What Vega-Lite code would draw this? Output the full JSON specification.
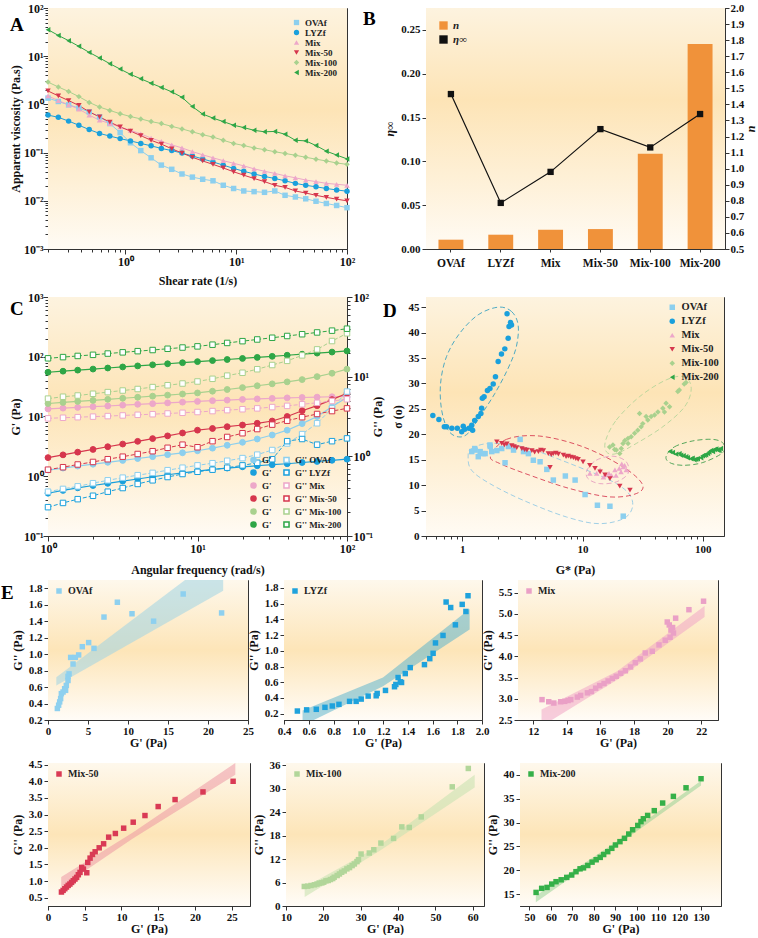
{
"$schema":"https://vega.github.io/schema/vega-lite/v6.json",
"padding":{"left":0,"top":1,"right":0,"bottom":0},
"background":"#ffffff",
"config":{
"font":"Liberation Serif",
"view":{"stroke":"#333333","strokeWidth":1},
"axis":{"grid":false,"labelFont":"Liberation Serif","labelFontWeight":"bold","labelFontSize":11,"labelColor":"#111111","titleFont":"Liberation Serif","titleFontWeight":"bold","titleFontSize":12,"titleColor":"#111111","domainColor":"#333333","tickColor":"#333333","tickSize":4,"labelPadding":2,"titlePadding":4,"labelFlush":false,"labelOverlap":false,"labelBound":false},
"legend":{"labelFont":"Liberation Serif","labelFontWeight":"bold","labelFontSize":10,"labelColor":"#222222","rowPadding":1,"padding":2,"symbolSize":30},
"title":{"font":"Liberation Serif","fontSize":19,"fontWeight":"bold","color":"#000000","anchor":"start","frame":"group","offset":0,"baseline":"alphabetic"}
},
"datasets":{
"A":[
{"x":0.2,"y":1.35,"s":"OVAf"},{"x":0.248,"y":1.15,"s":"OVAf"},{"x":0.307,"y":0.98,"s":"OVAf"},{"x":0.38,"y":0.84,"s":"OVAf"},{"x":0.471,"y":0.7,"s":"OVAf"},{"x":0.584,"y":0.55,"s":"OVAf"},{"x":0.723,"y":0.4,"s":"OVAf"},{"x":0.896,"y":0.26,"s":"OVAf"},{"x":1.11,"y":0.16,"s":"OVAf"},{"x":1.376,"y":0.11,"s":"OVAf"},{"x":1.705,"y":0.078,"s":"OVAf"},{"x":2.11,"y":0.055,"s":"OVAf"},{"x":2.62,"y":0.045,"s":"OVAf"},{"x":3.24,"y":0.036,"s":"OVAf"},{"x":4.02,"y":0.031,"s":"OVAf"},{"x":4.98,"y":0.028,"s":"OVAf"},{"x":6.17,"y":0.026,"s":"OVAf"},{"x":7.64,"y":0.021,"s":"OVAf"},{"x":9.47,"y":0.018,"s":"OVAf"},{"x":11.7,"y":0.016,"s":"OVAf"},{"x":14.5,"y":0.0155,"s":"OVAf"},{"x":18,"y":0.015,"s":"OVAf"},{"x":22.3,"y":0.016,"s":"OVAf"},{"x":27.6,"y":0.013,"s":"OVAf"},{"x":34.2,"y":0.012,"s":"OVAf"},{"x":42.4,"y":0.011,"s":"OVAf"},{"x":52.5,"y":0.0098,"s":"OVAf"},{"x":65.1,"y":0.0088,"s":"OVAf"},{"x":80.6,"y":0.008,"s":"OVAf"},{"x":100,"y":0.0072,"s":"OVAf"},
{"x":0.2,"y":0.6,"s":"LYZf"},{"x":0.248,"y":0.54,"s":"LYZf"},{"x":0.307,"y":0.45,"s":"LYZf"},{"x":0.38,"y":0.37,"s":"LYZf"},{"x":0.471,"y":0.3,"s":"LYZf"},{"x":0.584,"y":0.25,"s":"LYZf"},{"x":0.723,"y":0.22,"s":"LYZf"},{"x":0.896,"y":0.195,"s":"LYZf"},{"x":1.11,"y":0.175,"s":"LYZf"},{"x":1.376,"y":0.155,"s":"LYZf"},{"x":1.705,"y":0.138,"s":"LYZf"},{"x":2.11,"y":0.122,"s":"LYZf"},{"x":2.62,"y":0.11,"s":"LYZf"},{"x":3.24,"y":0.098,"s":"LYZf"},{"x":4.02,"y":0.085,"s":"LYZf"},{"x":4.98,"y":0.074,"s":"LYZf"},{"x":6.17,"y":0.064,"s":"LYZf"},{"x":7.64,"y":0.055,"s":"LYZf"},{"x":9.47,"y":0.047,"s":"LYZf"},{"x":11.7,"y":0.041,"s":"LYZf"},{"x":14.5,"y":0.036,"s":"LYZf"},{"x":18,"y":0.032,"s":"LYZf"},{"x":22.3,"y":0.029,"s":"LYZf"},{"x":27.6,"y":0.026,"s":"LYZf"},{"x":34.2,"y":0.023,"s":"LYZf"},{"x":42.4,"y":0.021,"s":"LYZf"},{"x":52.5,"y":0.0195,"s":"LYZf"},{"x":65.1,"y":0.018,"s":"LYZf"},{"x":80.6,"y":0.0168,"s":"LYZf"},{"x":100,"y":0.0158,"s":"LYZf"},
{"x":0.2,"y":1.5,"s":"Mix"},{"x":0.248,"y":1.2,"s":"Mix"},{"x":0.307,"y":0.98,"s":"Mix"},{"x":0.38,"y":0.8,"s":"Mix"},{"x":0.471,"y":0.6,"s":"Mix"},{"x":0.584,"y":0.47,"s":"Mix"},{"x":0.723,"y":0.4,"s":"Mix"},{"x":0.896,"y":0.34,"s":"Mix"},{"x":1.11,"y":0.29,"s":"Mix"},{"x":1.376,"y":0.245,"s":"Mix"},{"x":1.705,"y":0.2,"s":"Mix"},{"x":2.11,"y":0.17,"s":"Mix"},{"x":2.62,"y":0.145,"s":"Mix"},{"x":3.24,"y":0.125,"s":"Mix"},{"x":4.02,"y":0.105,"s":"Mix"},{"x":4.98,"y":0.09,"s":"Mix"},{"x":6.17,"y":0.078,"s":"Mix"},{"x":7.64,"y":0.068,"s":"Mix"},{"x":9.47,"y":0.06,"s":"Mix"},{"x":11.7,"y":0.053,"s":"Mix"},{"x":14.5,"y":0.046,"s":"Mix"},{"x":18,"y":0.041,"s":"Mix"},{"x":22.3,"y":0.037,"s":"Mix"},{"x":27.6,"y":0.033,"s":"Mix"},{"x":34.2,"y":0.03,"s":"Mix"},{"x":42.4,"y":0.027,"s":"Mix"},{"x":52.5,"y":0.025,"s":"Mix"},{"x":65.1,"y":0.023,"s":"Mix"},{"x":80.6,"y":0.022,"s":"Mix"},{"x":100,"y":0.021,"s":"Mix"},
{"x":0.2,"y":1.9,"s":"Mix-50"},{"x":0.248,"y":1.5,"s":"Mix-50"},{"x":0.307,"y":1.2,"s":"Mix-50"},{"x":0.38,"y":0.95,"s":"Mix-50"},{"x":0.471,"y":0.7,"s":"Mix-50"},{"x":0.584,"y":0.55,"s":"Mix-50"},{"x":0.723,"y":0.43,"s":"Mix-50"},{"x":0.896,"y":0.34,"s":"Mix-50"},{"x":1.11,"y":0.28,"s":"Mix-50"},{"x":1.376,"y":0.225,"s":"Mix-50"},{"x":1.705,"y":0.18,"s":"Mix-50"},{"x":2.11,"y":0.15,"s":"Mix-50"},{"x":2.62,"y":0.12,"s":"Mix-50"},{"x":3.24,"y":0.098,"s":"Mix-50"},{"x":4.02,"y":0.08,"s":"Mix-50"},{"x":4.98,"y":0.067,"s":"Mix-50"},{"x":6.17,"y":0.057,"s":"Mix-50"},{"x":7.64,"y":0.048,"s":"Mix-50"},{"x":9.47,"y":0.04,"s":"Mix-50"},{"x":11.7,"y":0.034,"s":"Mix-50"},{"x":14.5,"y":0.029,"s":"Mix-50"},{"x":18,"y":0.025,"s":"Mix-50"},{"x":22.3,"y":0.021,"s":"Mix-50"},{"x":27.6,"y":0.019,"s":"Mix-50"},{"x":34.2,"y":0.016,"s":"Mix-50"},{"x":42.4,"y":0.0145,"s":"Mix-50"},{"x":52.5,"y":0.013,"s":"Mix-50"},{"x":65.1,"y":0.0118,"s":"Mix-50"},{"x":80.6,"y":0.0108,"s":"Mix-50"},{"x":100,"y":0.01,"s":"Mix-50"},
{"x":0.2,"y":2.9,"s":"Mix-100"},{"x":0.248,"y":2.3,"s":"Mix-100"},{"x":0.307,"y":1.85,"s":"Mix-100"},{"x":0.38,"y":1.45,"s":"Mix-100"},{"x":0.471,"y":1.1,"s":"Mix-100"},{"x":0.584,"y":0.88,"s":"Mix-100"},{"x":0.723,"y":0.75,"s":"Mix-100"},{"x":0.896,"y":0.64,"s":"Mix-100"},{"x":1.11,"y":0.56,"s":"Mix-100"},{"x":1.376,"y":0.5,"s":"Mix-100"},{"x":1.705,"y":0.44,"s":"Mix-100"},{"x":2.11,"y":0.4,"s":"Mix-100"},{"x":2.62,"y":0.35,"s":"Mix-100"},{"x":3.24,"y":0.31,"s":"Mix-100"},{"x":4.02,"y":0.27,"s":"Mix-100"},{"x":4.98,"y":0.235,"s":"Mix-100"},{"x":6.17,"y":0.21,"s":"Mix-100"},{"x":7.64,"y":0.18,"s":"Mix-100"},{"x":9.47,"y":0.155,"s":"Mix-100"},{"x":11.7,"y":0.14,"s":"Mix-100"},{"x":14.5,"y":0.125,"s":"Mix-100"},{"x":18,"y":0.115,"s":"Mix-100"},{"x":22.3,"y":0.104,"s":"Mix-100"},{"x":27.6,"y":0.096,"s":"Mix-100"},{"x":34.2,"y":0.088,"s":"Mix-100"},{"x":42.4,"y":0.08,"s":"Mix-100"},{"x":52.5,"y":0.073,"s":"Mix-100"},{"x":65.1,"y":0.067,"s":"Mix-100"},{"x":80.6,"y":0.061,"s":"Mix-100"},{"x":100,"y":0.057,"s":"Mix-100"},
{"x":0.2,"y":35.5,"s":"Mix-200"},{"x":0.248,"y":27,"s":"Mix-200"},{"x":0.307,"y":21,"s":"Mix-200"},{"x":0.38,"y":16,"s":"Mix-200"},{"x":0.471,"y":12,"s":"Mix-200"},{"x":0.584,"y":9.2,"s":"Mix-200"},{"x":0.723,"y":7,"s":"Mix-200"},{"x":0.896,"y":5.4,"s":"Mix-200"},{"x":1.11,"y":4.2,"s":"Mix-200"},{"x":1.376,"y":3.4,"s":"Mix-200"},{"x":1.705,"y":2.75,"s":"Mix-200"},{"x":2.11,"y":2.25,"s":"Mix-200"},{"x":2.62,"y":1.82,"s":"Mix-200"},{"x":3.24,"y":1.4,"s":"Mix-200"},{"x":4.02,"y":0.9,"s":"Mix-200"},{"x":4.98,"y":0.63,"s":"Mix-200"},{"x":6.17,"y":0.52,"s":"Mix-200"},{"x":7.64,"y":0.44,"s":"Mix-200"},{"x":9.47,"y":0.37,"s":"Mix-200"},{"x":11.7,"y":0.33,"s":"Mix-200"},{"x":14.5,"y":0.29,"s":"Mix-200"},{"x":18,"y":0.27,"s":"Mix-200"},{"x":22.3,"y":0.275,"s":"Mix-200"},{"x":27.6,"y":0.24,"s":"Mix-200"},{"x":34.2,"y":0.18,"s":"Mix-200"},{"x":42.4,"y":0.175,"s":"Mix-200"},{"x":52.5,"y":0.14,"s":"Mix-200"},{"x":65.1,"y":0.107,"s":"Mix-200"},{"x":80.6,"y":0.089,"s":"Mix-200"},{"x":100,"y":0.074,"s":"Mix-200"}
],
"B":[{"c":"OVAf","n":0.558,"e":0.1768},{"c":"LYZf","n":0.589,"e":0.0526},{"c":"Mix","n":0.62,"e":0.088},{"c":"Mix-50","n":0.624,"e":0.1368},{"c":"Mix-100","n":1.093,"e":0.1159},{"c":"Mix-200","n":1.776,"e":0.154}],
"Cp":[
{"x":1,"y":1.27,"s":"G' OVAf"},{"x":1.26,"y":1.37,"s":"G' OVAf"},{"x":1.58,"y":1.48,"s":"G' OVAf"},{"x":2,"y":1.59,"s":"G' OVAf"},{"x":2.51,"y":1.71,"s":"G' OVAf"},{"x":3.16,"y":1.84,"s":"G' OVAf"},{"x":3.98,"y":1.98,"s":"G' OVAf"},{"x":5.01,"y":2.13,"s":"G' OVAf"},{"x":6.31,"y":2.3,"s":"G' OVAf"},{"x":7.94,"y":2.47,"s":"G' OVAf"},{"x":10,"y":2.67,"s":"G' OVAf"},{"x":12.6,"y":2.95,"s":"G' OVAf"},{"x":15.8,"y":3.3,"s":"G' OVAf"},{"x":20,"y":3.7,"s":"G' OVAf"},{"x":25.1,"y":4.2,"s":"G' OVAf"},{"x":31.6,"y":4.9,"s":"G' OVAf"},{"x":39.8,"y":5.9,"s":"G' OVAf"},{"x":50.1,"y":7.6,"s":"G' OVAf"},{"x":63.1,"y":10,"s":"G' OVAf"},{"x":79.4,"y":14.5,"s":"G' OVAf"},{"x":100,"y":21,"s":"G' OVAf"},
{"x":1,"y":0.52,"s":"G' LYZf"},{"x":1.26,"y":0.58,"s":"G' LYZf"},{"x":1.58,"y":0.64,"s":"G' LYZf"},{"x":2,"y":0.7,"s":"G' LYZf"},{"x":2.51,"y":0.76,"s":"G' LYZf"},{"x":3.16,"y":0.83,"s":"G' LYZf"},{"x":3.98,"y":0.9,"s":"G' LYZf"},{"x":5.01,"y":0.98,"s":"G' LYZf"},{"x":6.31,"y":1.06,"s":"G' LYZf"},{"x":7.94,"y":1.14,"s":"G' LYZf"},{"x":10,"y":1.22,"s":"G' LYZf"},{"x":12.6,"y":1.3,"s":"G' LYZf"},{"x":15.8,"y":1.37,"s":"G' LYZf"},{"x":20,"y":1.44,"s":"G' LYZf"},{"x":25.1,"y":1.5,"s":"G' LYZf"},{"x":31.6,"y":1.56,"s":"G' LYZf"},{"x":39.8,"y":1.62,"s":"G' LYZf"},{"x":50.1,"y":1.7,"s":"G' LYZf"},{"x":63.1,"y":1.77,"s":"G' LYZf"},{"x":79.4,"y":1.85,"s":"G' LYZf"},{"x":100,"y":1.93,"s":"G' LYZf"},
{"x":1,"y":13.4,"s":"G' Mix"},{"x":1.26,"y":13.8,"s":"G' Mix"},{"x":1.58,"y":14.2,"s":"G' Mix"},{"x":2,"y":14.6,"s":"G' Mix"},{"x":2.51,"y":15,"s":"G' Mix"},{"x":3.16,"y":15.5,"s":"G' Mix"},{"x":3.98,"y":16,"s":"G' Mix"},{"x":5.01,"y":16.4,"s":"G' Mix"},{"x":6.31,"y":16.9,"s":"G' Mix"},{"x":7.94,"y":17.4,"s":"G' Mix"},{"x":10,"y":17.9,"s":"G' Mix"},{"x":12.6,"y":18.4,"s":"G' Mix"},{"x":15.8,"y":18.8,"s":"G' Mix"},{"x":20,"y":19.3,"s":"G' Mix"},{"x":25.1,"y":19.7,"s":"G' Mix"},{"x":31.6,"y":20.1,"s":"G' Mix"},{"x":39.8,"y":20.5,"s":"G' Mix"},{"x":50.1,"y":20.8,"s":"G' Mix"},{"x":63.1,"y":21.1,"s":"G' Mix"},{"x":79.4,"y":21.4,"s":"G' Mix"},{"x":100,"y":21.7,"s":"G' Mix"},
{"x":1,"y":2.05,"s":"G' Mix-50"},{"x":1.26,"y":2.28,"s":"G' Mix-50"},{"x":1.58,"y":2.53,"s":"G' Mix-50"},{"x":2,"y":2.81,"s":"G' Mix-50"},{"x":2.51,"y":3.12,"s":"G' Mix-50"},{"x":3.16,"y":3.46,"s":"G' Mix-50"},{"x":3.98,"y":3.84,"s":"G' Mix-50"},{"x":5.01,"y":4.27,"s":"G' Mix-50"},{"x":6.31,"y":4.74,"s":"G' Mix-50"},{"x":7.94,"y":5.3,"s":"G' Mix-50"},{"x":10,"y":5.9,"s":"G' Mix-50"},{"x":12.6,"y":6.3,"s":"G' Mix-50"},{"x":15.8,"y":6.75,"s":"G' Mix-50"},{"x":20,"y":7.2,"s":"G' Mix-50"},{"x":25.1,"y":7.7,"s":"G' Mix-50"},{"x":31.6,"y":8.4,"s":"G' Mix-50"},{"x":39.8,"y":10,"s":"G' Mix-50"},{"x":50.1,"y":12.5,"s":"G' Mix-50"},{"x":63.1,"y":15.2,"s":"G' Mix-50"},{"x":79.4,"y":19.2,"s":"G' Mix-50"},{"x":100,"y":24.5,"s":"G' Mix-50"},
{"x":1,"y":16.5,"s":"G' Mix-100"},{"x":1.26,"y":17.2,"s":"G' Mix-100"},{"x":1.58,"y":17.9,"s":"G' Mix-100"},{"x":2,"y":18.6,"s":"G' Mix-100"},{"x":2.51,"y":19.4,"s":"G' Mix-100"},{"x":3.16,"y":20.2,"s":"G' Mix-100"},{"x":3.98,"y":21,"s":"G' Mix-100"},{"x":5.01,"y":21.9,"s":"G' Mix-100"},{"x":6.31,"y":22.8,"s":"G' Mix-100"},{"x":7.94,"y":23.8,"s":"G' Mix-100"},{"x":10,"y":24.8,"s":"G' Mix-100"},{"x":12.6,"y":26.5,"s":"G' Mix-100"},{"x":15.8,"y":28.3,"s":"G' Mix-100"},{"x":20,"y":30.5,"s":"G' Mix-100"},{"x":25.1,"y":32.7,"s":"G' Mix-100"},{"x":31.6,"y":35.2,"s":"G' Mix-100"},{"x":39.8,"y":38,"s":"G' Mix-100"},{"x":50.1,"y":41.5,"s":"G' Mix-100"},{"x":63.1,"y":46.5,"s":"G' Mix-100"},{"x":79.4,"y":53,"s":"G' Mix-100"},{"x":100,"y":62,"s":"G' Mix-100"},
{"x":1,"y":55,"s":"G' Mix-200"},{"x":1.26,"y":57.3,"s":"G' Mix-200"},{"x":1.58,"y":59.7,"s":"G' Mix-200"},{"x":2,"y":62.2,"s":"G' Mix-200"},{"x":2.51,"y":64.8,"s":"G' Mix-200"},{"x":3.16,"y":67.5,"s":"G' Mix-200"},{"x":3.98,"y":70.3,"s":"G' Mix-200"},{"x":5.01,"y":73.3,"s":"G' Mix-200"},{"x":6.31,"y":76.3,"s":"G' Mix-200"},{"x":7.94,"y":79.5,"s":"G' Mix-200"},{"x":10,"y":82.9,"s":"G' Mix-200"},{"x":12.6,"y":86.3,"s":"G' Mix-200"},{"x":15.8,"y":89.9,"s":"G' Mix-200"},{"x":20,"y":93.7,"s":"G' Mix-200"},{"x":25.1,"y":97.6,"s":"G' Mix-200"},{"x":31.6,"y":101.7,"s":"G' Mix-200"},{"x":39.8,"y":106,"s":"G' Mix-200"},{"x":50.1,"y":110.4,"s":"G' Mix-200"},{"x":63.1,"y":115,"s":"G' Mix-200"},{"x":79.4,"y":119.8,"s":"G' Mix-200"},{"x":100,"y":125,"s":"G' Mix-200"}
],
"Cpp":[
{"x":1,"y":0.36,"s":"G'' OVAf"},{"x":1.26,"y":0.39,"s":"G'' OVAf"},{"x":1.58,"y":0.42,"s":"G'' OVAf"},{"x":2,"y":0.46,"s":"G'' OVAf"},{"x":2.51,"y":0.5,"s":"G'' OVAf"},{"x":3.16,"y":0.54,"s":"G'' OVAf"},{"x":3.98,"y":0.58,"s":"G'' OVAf"},{"x":5.01,"y":0.62,"s":"G'' OVAf"},{"x":6.31,"y":0.67,"s":"G'' OVAf"},{"x":7.94,"y":0.72,"s":"G'' OVAf"},{"x":10,"y":0.77,"s":"G'' OVAf"},{"x":12.6,"y":0.82,"s":"G'' OVAf"},{"x":15.8,"y":0.88,"s":"G'' OVAf"},{"x":20,"y":0.95,"s":"G'' OVAf"},{"x":25.1,"y":1.05,"s":"G'' OVAf"},{"x":31.6,"y":1.2,"s":"G'' OVAf"},{"x":39.8,"y":1.45,"s":"G'' OVAf"},{"x":50.1,"y":1.9,"s":"G'' OVAf"},{"x":63.1,"y":2.6,"s":"G'' OVAf"},{"x":79.4,"y":4,"s":"G'' OVAf"},{"x":100,"y":6.5,"s":"G'' OVAf"},
{"x":1,"y":0.23,"s":"G'' LYZf"},{"x":1.26,"y":0.26,"s":"G'' LYZf"},{"x":1.58,"y":0.29,"s":"G'' LYZf"},{"x":2,"y":0.32,"s":"G'' LYZf"},{"x":2.51,"y":0.36,"s":"G'' LYZf"},{"x":3.16,"y":0.4,"s":"G'' LYZf"},{"x":3.98,"y":0.45,"s":"G'' LYZf"},{"x":5.01,"y":0.5,"s":"G'' LYZf"},{"x":6.31,"y":0.55,"s":"G'' LYZf"},{"x":7.94,"y":0.6,"s":"G'' LYZf"},{"x":10,"y":0.64,"s":"G'' LYZf"},{"x":12.6,"y":0.68,"s":"G'' LYZf"},{"x":15.8,"y":0.72,"s":"G'' LYZf"},{"x":20,"y":0.77,"s":"G'' LYZf"},{"x":25.1,"y":0.83,"s":"G'' LYZf"},{"x":31.6,"y":0.92,"s":"G'' LYZf"},{"x":39.8,"y":1.55,"s":"G'' LYZf"},{"x":50.1,"y":1.65,"s":"G'' LYZf"},{"x":63.1,"y":1.4,"s":"G'' LYZf"},{"x":79.4,"y":1.55,"s":"G'' LYZf"},{"x":100,"y":1.68,"s":"G'' LYZf"},
{"x":1,"y":3,"s":"G'' Mix"},{"x":1.26,"y":3.05,"s":"G'' Mix"},{"x":1.58,"y":3.1,"s":"G'' Mix"},{"x":2,"y":3.15,"s":"G'' Mix"},{"x":2.51,"y":3.2,"s":"G'' Mix"},{"x":3.16,"y":3.26,"s":"G'' Mix"},{"x":3.98,"y":3.32,"s":"G'' Mix"},{"x":5.01,"y":3.38,"s":"G'' Mix"},{"x":6.31,"y":3.45,"s":"G'' Mix"},{"x":7.94,"y":3.52,"s":"G'' Mix"},{"x":10,"y":3.6,"s":"G'' Mix"},{"x":12.6,"y":3.7,"s":"G'' Mix"},{"x":15.8,"y":3.8,"s":"G'' Mix"},{"x":20,"y":3.9,"s":"G'' Mix"},{"x":25.1,"y":4,"s":"G'' Mix"},{"x":31.6,"y":4.15,"s":"G'' Mix"},{"x":39.8,"y":4.3,"s":"G'' Mix"},{"x":50.1,"y":4.5,"s":"G'' Mix"},{"x":63.1,"y":4.7,"s":"G'' Mix"},{"x":79.4,"y":4.95,"s":"G'' Mix"},{"x":100,"y":5.2,"s":"G'' Mix"},
{"x":1,"y":0.68,"s":"G'' Mix-50"},{"x":1.26,"y":0.73,"s":"G'' Mix-50"},{"x":1.58,"y":0.79,"s":"G'' Mix-50"},{"x":2,"y":0.85,"s":"G'' Mix-50"},{"x":2.51,"y":0.92,"s":"G'' Mix-50"},{"x":3.16,"y":0.99,"s":"G'' Mix-50"},{"x":3.98,"y":1.07,"s":"G'' Mix-50"},{"x":5.01,"y":1.16,"s":"G'' Mix-50"},{"x":6.31,"y":1.28,"s":"G'' Mix-50"},{"x":7.94,"y":1.4,"s":"G'' Mix-50"},{"x":10,"y":1.3,"s":"G'' Mix-50"},{"x":12.6,"y":1.55,"s":"G'' Mix-50"},{"x":15.8,"y":1.75,"s":"G'' Mix-50"},{"x":20,"y":1.95,"s":"G'' Mix-50"},{"x":25.1,"y":2.2,"s":"G'' Mix-50"},{"x":31.6,"y":2.5,"s":"G'' Mix-50"},{"x":39.8,"y":2.8,"s":"G'' Mix-50"},{"x":50.1,"y":3.1,"s":"G'' Mix-50"},{"x":63.1,"y":3.4,"s":"G'' Mix-50"},{"x":79.4,"y":3.7,"s":"G'' Mix-50"},{"x":100,"y":4,"s":"G'' Mix-50"},
{"x":1,"y":5.3,"s":"G'' Mix-100"},{"x":1.26,"y":5.6,"s":"G'' Mix-100"},{"x":1.58,"y":5.8,"s":"G'' Mix-100"},{"x":2,"y":6.1,"s":"G'' Mix-100"},{"x":2.51,"y":6.4,"s":"G'' Mix-100"},{"x":3.16,"y":6.7,"s":"G'' Mix-100"},{"x":3.98,"y":7,"s":"G'' Mix-100"},{"x":5.01,"y":7.4,"s":"G'' Mix-100"},{"x":6.31,"y":7.8,"s":"G'' Mix-100"},{"x":7.94,"y":8.2,"s":"G'' Mix-100"},{"x":10,"y":8.7,"s":"G'' Mix-100"},{"x":12.6,"y":9.4,"s":"G'' Mix-100"},{"x":15.8,"y":10.3,"s":"G'' Mix-100"},{"x":20,"y":11.2,"s":"G'' Mix-100"},{"x":25.1,"y":12.4,"s":"G'' Mix-100"},{"x":31.6,"y":14,"s":"G'' Mix-100"},{"x":39.8,"y":15.8,"s":"G'' Mix-100"},{"x":50.1,"y":18.5,"s":"G'' Mix-100"},{"x":63.1,"y":22,"s":"G'' Mix-100"},{"x":79.4,"y":28,"s":"G'' Mix-100"},{"x":100,"y":35,"s":"G'' Mix-100"},
{"x":1,"y":17,"s":"G'' Mix-200"},{"x":1.26,"y":17.6,"s":"G'' Mix-200"},{"x":1.58,"y":18.2,"s":"G'' Mix-200"},{"x":2,"y":18.8,"s":"G'' Mix-200"},{"x":2.51,"y":19.5,"s":"G'' Mix-200"},{"x":3.16,"y":20.2,"s":"G'' Mix-200"},{"x":3.98,"y":20.9,"s":"G'' Mix-200"},{"x":5.01,"y":21.6,"s":"G'' Mix-200"},{"x":6.31,"y":22.4,"s":"G'' Mix-200"},{"x":7.94,"y":23.2,"s":"G'' Mix-200"},{"x":10,"y":24,"s":"G'' Mix-200"},{"x":12.6,"y":25.2,"s":"G'' Mix-200"},{"x":15.8,"y":26.5,"s":"G'' Mix-200"},{"x":20,"y":27.9,"s":"G'' Mix-200"},{"x":25.1,"y":29.3,"s":"G'' Mix-200"},{"x":31.6,"y":30.8,"s":"G'' Mix-200"},{"x":39.8,"y":32.4,"s":"G'' Mix-200"},{"x":50.1,"y":34.1,"s":"G'' Mix-200"},{"x":63.1,"y":35.9,"s":"G'' Mix-200"},{"x":79.4,"y":37.8,"s":"G'' Mix-200"},{"x":100,"y":40,"s":"G'' Mix-200"}
],
"D":[
{"x":1.28,"y":16.9,"s":"OVAf"},{"x":1.41,"y":16.6,"s":"OVAf"},{"x":1.55,"y":16.2,"s":"OVAf"},{"x":1.71,"y":17.6,"s":"OVAf"},{"x":1.76,"y":16.6,"s":"OVAf"},{"x":1.94,"y":16.8,"s":"OVAf"},{"x":2.13,"y":17.2,"s":"OVAf"},{"x":2.27,"y":14.4,"s":"OVAf"},{"x":2.42,"y":17.6,"s":"OVAf"},{"x":2.67,"y":16.9,"s":"OVAf"},{"x":3.03,"y":19,"s":"OVAf"},{"x":3.23,"y":16.6,"s":"OVAf"},{"x":3.55,"y":16.2,"s":"OVAf"},{"x":3.9,"y":14.9,"s":"OVAf"},{"x":4.44,"y":14.6,"s":"OVAf"},{"x":5.05,"y":13.1,"s":"OVAf"},{"x":5.72,"y":11,"s":"OVAf"},{"x":7.2,"y":11.8,"s":"OVAf"},{"x":8.68,"y":11,"s":"OVAf"},{"x":10.5,"y":8.15,"s":"OVAf"},{"x":13.3,"y":6.05,"s":"OVAf"},{"x":16.9,"y":5.85,"s":"OVAf"},{"x":21.8,"y":3.9,"s":"OVAf"},{"x":1.2,"y":16.6,"s":"OVAf"},{"x":1.27,"y":17.2,"s":"OVAf"},{"x":1.36,"y":15.6,"s":"OVAf"},{"x":1.49,"y":16.2,"s":"OVAf"},{"x":1.7,"y":17.9,"s":"OVAf"},
{"x":2.36,"y":43.7,"s":"LYZf"},{"x":2.41,"y":38.9,"s":"LYZf"},{"x":2.57,"y":41.5,"s":"LYZf"},{"x":2.45,"y":41.2,"s":"LYZf"},{"x":2.52,"y":42,"s":"LYZf"},{"x":2.26,"y":36.8,"s":"LYZf"},{"x":2.12,"y":35.8,"s":"LYZf"},{"x":1.99,"y":34.3,"s":"LYZf"},{"x":1.89,"y":31.3,"s":"LYZf"},{"x":1.81,"y":29.9,"s":"LYZf"},{"x":1.7,"y":29,"s":"LYZf"},{"x":1.62,"y":28.6,"s":"LYZf"},{"x":1.52,"y":27.4,"s":"LYZf"},{"x":1.47,"y":27.1,"s":"LYZf"},{"x":1.45,"y":25.1,"s":"LYZf"},{"x":1.43,"y":24.1,"s":"LYZf"},{"x":1.36,"y":23.5,"s":"LYZf"},{"x":1.27,"y":22.7,"s":"LYZf"},{"x":1.2,"y":21.8,"s":"LYZf"},{"x":1.14,"y":21.2,"s":"LYZf"},{"x":1.05,"y":21,"s":"LYZf"},{"x":1.02,"y":21.6,"s":"LYZf"},{"x":0.99,"y":20.5,"s":"LYZf"},{"x":0.91,"y":21.2,"s":"LYZf"},{"x":0.82,"y":21.2,"s":"LYZf"},{"x":0.74,"y":21.5,"s":"LYZf"},{"x":0.71,"y":21.5,"s":"LYZf"},{"x":0.64,"y":22.9,"s":"LYZf"},{"x":0.57,"y":23.7,"s":"LYZf"},{"x":1.22,"y":20.8,"s":"LYZf"},
{"x":11.5,"y":12.3,"s":"Mix"},{"x":13.1,"y":12.3,"s":"Mix"},{"x":14.9,"y":11.6,"s":"Mix"},{"x":16.6,"y":12.3,"s":"Mix"},{"x":18.6,"y":13,"s":"Mix"},{"x":20.2,"y":13.3,"s":"Mix"},{"x":21.8,"y":13.6,"s":"Mix"},{"x":22.4,"y":13.9,"s":"Mix"},{"x":23.1,"y":13,"s":"Mix"},{"x":20.9,"y":12.6,"s":"Mix"},{"x":19,"y":11.9,"s":"Mix"},{"x":17.4,"y":11.9,"s":"Mix"},{"x":14,"y":13,"s":"Mix"},{"x":15.5,"y":12,"s":"Mix"},{"x":21.2,"y":14.2,"s":"Mix"},
{"x":1.94,"y":18.5,"s":"Mix-50"},{"x":2.13,"y":18.2,"s":"Mix-50"},{"x":2.24,"y":17.9,"s":"Mix-50"},{"x":2.35,"y":18.1,"s":"Mix-50"},{"x":2.58,"y":17.75,"s":"Mix-50"},{"x":2.7,"y":17.6,"s":"Mix-50"},{"x":2.84,"y":17.4,"s":"Mix-50"},{"x":3.13,"y":17.2,"s":"Mix-50"},{"x":3.3,"y":17,"s":"Mix-50"},{"x":3.45,"y":16.9,"s":"Mix-50"},{"x":3.79,"y":16.8,"s":"Mix-50"},{"x":4,"y":16.5,"s":"Mix-50"},{"x":4.3,"y":16.6,"s":"Mix-50"},{"x":4.5,"y":16.9,"s":"Mix-50"},{"x":4.73,"y":16.8,"s":"Mix-50"},{"x":5.2,"y":16.2,"s":"Mix-50"},{"x":5.37,"y":13.5,"s":"Mix-50"},{"x":5.5,"y":16,"s":"Mix-50"},{"x":5.72,"y":16.2,"s":"Mix-50"},{"x":6,"y":16.3,"s":"Mix-50"},{"x":6.3,"y":16.1,"s":"Mix-50"},{"x":6.93,"y":15.9,"s":"Mix-50"},{"x":7.3,"y":15.6,"s":"Mix-50"},{"x":7.62,"y":15.7,"s":"Mix-50"},{"x":8,"y":15.5,"s":"Mix-50"},{"x":8.4,"y":15.4,"s":"Mix-50"},{"x":8.8,"y":15.2,"s":"Mix-50"},{"x":9.2,"y":15.05,"s":"Mix-50"},{"x":10.1,"y":14.6,"s":"Mix-50"},{"x":11.5,"y":13.9,"s":"Mix-50"},{"x":12.7,"y":13.3,"s":"Mix-50"},{"x":14,"y":12.6,"s":"Mix-50"},{"x":15.4,"y":12,"s":"Mix-50"},{"x":16.9,"y":11.3,"s":"Mix-50"},{"x":20.4,"y":9.8,"s":"Mix-50"},{"x":24.8,"y":9,"s":"Mix-50"},
{"x":16.8,"y":17.5,"s":"Mix-100"},{"x":17.9,"y":17.9,"s":"Mix-100"},{"x":18.5,"y":17,"s":"Mix-100"},{"x":19.1,"y":16.9,"s":"Mix-100"},{"x":20.4,"y":16.2,"s":"Mix-100"},{"x":21,"y":17.2,"s":"Mix-100"},{"x":21.7,"y":18.2,"s":"Mix-100"},{"x":22.5,"y":18.8,"s":"Mix-100"},{"x":23.9,"y":19.2,"s":"Mix-100"},{"x":23.9,"y":18.2,"s":"Mix-100"},{"x":25.4,"y":19.5,"s":"Mix-100"},{"x":27.1,"y":20.2,"s":"Mix-100"},{"x":28.8,"y":20.8,"s":"Mix-100"},{"x":29.8,"y":24.1,"s":"Mix-100"},{"x":30.7,"y":21.5,"s":"Mix-100"},{"x":31.7,"y":22.1,"s":"Mix-100"},{"x":33.8,"y":23.5,"s":"Mix-100"},{"x":34.9,"y":22.8,"s":"Mix-100"},{"x":37.2,"y":23.5,"s":"Mix-100"},{"x":39.7,"y":23.8,"s":"Mix-100"},{"x":42.3,"y":24.4,"s":"Mix-100"},{"x":46.5,"y":25.1,"s":"Mix-100"},{"x":48,"y":24.4,"s":"Mix-100"},{"x":49.5,"y":26.1,"s":"Mix-100"},{"x":52.9,"y":25.4,"s":"Mix-100"},{"x":62,"y":28.4,"s":"Mix-100"},{"x":63.8,"y":28.7,"s":"Mix-100"},{"x":70.1,"y":29.9,"s":"Mix-100"},{"x":72.5,"y":30.2,"s":"Mix-100"},
{"x":53.4,"y":16.6,"s":"Mix-200"},{"x":56.2,"y":16.4,"s":"Mix-200"},{"x":59.9,"y":16.1,"s":"Mix-200"},{"x":63.8,"y":16.2,"s":"Mix-200"},{"x":65.8,"y":15.9,"s":"Mix-200"},{"x":69,"y":15.8,"s":"Mix-200"},{"x":72.5,"y":15.6,"s":"Mix-200"},{"x":74.9,"y":15.4,"s":"Mix-200"},{"x":79.9,"y":15.2,"s":"Mix-200"},{"x":82,"y":15.3,"s":"Mix-200"},{"x":85,"y":15,"s":"Mix-200"},{"x":87.8,"y":15.1,"s":"Mix-200"},{"x":90.6,"y":15.2,"s":"Mix-200"},{"x":96.6,"y":15.4,"s":"Mix-200"},{"x":99.7,"y":15.8,"s":"Mix-200"},{"x":103,"y":15.9,"s":"Mix-200"},{"x":106,"y":16,"s":"Mix-200"},{"x":110,"y":16.2,"s":"Mix-200"},{"x":113,"y":16.5,"s":"Mix-200"},{"x":117,"y":16.8,"s":"Mix-200"},{"x":121,"y":16.6,"s":"Mix-200"},{"x":125,"y":17,"s":"Mix-200"},{"x":129,"y":17.1,"s":"Mix-200"},{"x":133,"y":16.9,"s":"Mix-200"},{"x":137,"y":16.8,"s":"Mix-200"},{"x":141,"y":17.2,"s":"Mix-200"}
],
"De":[
{"x":1.99,"y":45,"s":"LYZf","o":0},{"x":2.57,"y":44.15,"s":"LYZf","o":1},{"x":2.915,"y":41.5,"s":"LYZf","o":2},{"x":2.82,"y":37.25,"s":"LYZf","o":3},{"x":2.41,"y":33,"s":"LYZf","o":4},{"x":1.87,"y":28.05,"s":"LYZf","o":5},{"x":1.4,"y":23.45,"s":"LYZf","o":6},{"x":1.12,"y":20.2,"s":"LYZf","o":7},{"x":0.926,"y":19.5,"s":"LYZf","o":8},{"x":0.765,"y":20.8,"s":"LYZf","o":9},{"x":0.674,"y":24.8,"s":"LYZf","o":10},{"x":0.661,"y":30,"s":"LYZf","o":11},{"x":0.741,"y":35.3,"s":"LYZf","o":12},{"x":0.956,"y":39.9,"s":"LYZf","o":13},{"x":1.357,"y":43.5,"s":"LYZf","o":14},
{"x":1.12,"y":15.57,"s":"OVAf","o":0},{"x":1.195,"y":17.21,"s":"OVAf","o":1},{"x":1.697,"y":18.2,"s":"OVAf","o":2},{"x":3.21,"y":17.54,"s":"OVAf","o":3},{"x":7.83,"y":14.26,"s":"OVAf","o":4},{"x":19.1,"y":10.3,"s":"OVAf","o":5},{"x":25.9,"y":7.03,"s":"OVAf","o":6},{"x":23.1,"y":3.75,"s":"OVAf","o":7},{"x":13.9,"y":2.43,"s":"OVAf","o":8},{"x":7.34,"y":3.75,"s":"OVAf","o":9},{"x":3.21,"y":7.03,"s":"OVAf","o":10},{"x":1.697,"y":10.3,"s":"OVAf","o":11},{"x":1.195,"y":12.94,"s":"OVAf","o":12},
{"x":1.72,"y":15.7,"s":"Mix-50","o":0},{"x":2.33,"y":19,"s":"Mix-50","o":1},{"x":4.41,"y":19.65,"s":"Mix-50","o":2},{"x":10.1,"y":17.54,"s":"Mix-50","o":3},{"x":21.7,"y":13.6,"s":"Mix-50","o":4},{"x":31.4,"y":10.2,"s":"Mix-50","o":5},{"x":28,"y":8.34,"s":"Mix-50","o":6},{"x":16.8,"y":7.69,"s":"Mix-50","o":7},{"x":7.83,"y":9.33,"s":"Mix-50","o":8},{"x":3.64,"y":11.96,"s":"Mix-50","o":9},{"x":2.05,"y":14.26,"s":"Mix-50","o":10},
{"x":10.9,"y":12.94,"s":"Mix","o":0},{"x":13,"y":14.9,"s":"Mix","o":1},{"x":17.9,"y":15.7,"s":"Mix","o":2},{"x":23.1,"y":14.6,"s":"Mix","o":3},{"x":23.9,"y":12.3,"s":"Mix","o":4},{"x":19.1,"y":10.64,"s":"Mix","o":5},{"x":13.9,"y":10.3,"s":"Mix","o":6},{"x":11.1,"y":11.3,"s":"Mix","o":7},
{"x":15.6,"y":18.86,"s":"Mix-100","o":0},{"x":19.1,"y":22.8,"s":"Mix-100","o":1},{"x":29.8,"y":27.4,"s":"Mix-100","o":2},{"x":49.6,"y":30.7,"s":"Mix-100","o":3},{"x":70.5,"y":31.3,"s":"Mix-100","o":4},{"x":80.1,"y":29,"s":"Mix-100","o":5},{"x":70.5,"y":25.4,"s":"Mix-100","o":6},{"x":46.6,"y":21.5,"s":"Mix-100","o":7},{"x":28,"y":18.2,"s":"Mix-100","o":8},{"x":19.1,"y":16.2,"s":"Mix-100","o":9},{"x":15.8,"y":16.56,"s":"Mix-100","o":10},
{"x":49.6,"y":15.7,"s":"Mix-200","o":0},{"x":58.2,"y":17.54,"s":"Mix-200","o":1},{"x":82.6,"y":18.7,"s":"Mix-200","o":2},{"x":121,"y":19,"s":"Mix-200","o":3},{"x":148,"y":18.2,"s":"Mix-200","o":4},{"x":146.5,"y":16.4,"s":"Mix-200","o":5},{"x":100,"y":14.45,"s":"Mix-200","o":6},{"x":68.2,"y":13.9,"s":"Mix-200","o":7},{"x":52.9,"y":14.45,"s":"Mix-200","o":8}
],
"E1":[{"x":1.17,"y":0.34},{"x":1.33,"y":0.38},{"x":1.46,"y":0.42},{"x":1.58,"y":0.46},{"x":1.67,"y":0.52},{"x":1.88,"y":0.54},{"x":2.08,"y":0.58},{"x":2.29,"y":0.62},{"x":2.2,"y":0.56},{"x":2.5,"y":0.68},{"x":2.5,"y":0.73},{"x":2.63,"y":0.76},{"x":2.83,"y":0.96},{"x":3.13,"y":0.88},{"x":3.42,"y":0.96},{"x":3.83,"y":0.99},{"x":4.29,"y":1.09},{"x":5.08,"y":1.14},{"x":5.75,"y":1.07},{"x":7,"y":1.45},{"x":8.67,"y":1.63},{"x":10.5,"y":1.49},{"x":13.2,"y":1.4},{"x":16.9,"y":1.73},{"x":21.7,"y":1.5}],
"E1b":[{"x":1.04,"lo":0.62,"hi":0.72},{"x":21.9,"lo":1.77,"hi":2.25}],
"E2":[{"x":0.508,"y":0.234},{"x":0.583,"y":0.249},{"x":0.661,"y":0.256},{"x":0.731,"y":0.281},{"x":0.79,"y":0.298},{"x":0.844,"y":0.319},{"x":0.93,"y":0.357},{"x":0.983,"y":0.357},{"x":1.024,"y":0.386},{"x":1.08,"y":0.424},{"x":1.145,"y":0.428},{"x":1.153,"y":0.458},{"x":1.22,"y":0.496},{"x":1.293,"y":0.543},{"x":1.304,"y":0.572},{"x":1.322,"y":0.66},{"x":1.34,"y":0.605},{"x":1.35,"y":0.597},{"x":1.38,"y":0.71},{"x":1.42,"y":0.786},{"x":1.535,"y":0.824},{"x":1.578,"y":0.9},{"x":1.605,"y":0.968},{"x":1.624,"y":1.1},{"x":1.685,"y":1.195},{"x":1.785,"y":1.33},{"x":1.71,"y":1.62},{"x":1.747,"y":1.55},{"x":1.84,"y":1.59},{"x":1.87,"y":1.5},{"x":1.887,"y":1.7}],
"E2b":[{"x":0.55,"lo":0.05,"hi":0.24},{"x":1.2,"lo":0.55,"hi":0.66},{"x":1.9,"lo":1.27,"hi":1.53}],
"E3":[{"x":12.53,"y":2.98},{"x":12.93,"y":2.93},{"x":13.23,"y":2.9},{"x":13.64,"y":2.93},{"x":13.88,"y":2.94},{"x":14.08,"y":2.96},{"x":14.24,"y":2.98},{"x":14.63,"y":3.04},{"x":14.83,"y":3.08},{"x":15.23,"y":3.14},{"x":15.47,"y":3.17},{"x":15.72,"y":3.25},{"x":15.96,"y":3.31},{"x":16.22,"y":3.36},{"x":16.46,"y":3.42},{"x":16.71,"y":3.48},{"x":16.95,"y":3.53},{"x":17.21,"y":3.6},{"x":17.49,"y":3.66},{"x":17.8,"y":3.75},{"x":18.08,"y":3.85},{"x":18.38,"y":3.94},{"x":18.67,"y":4.08},{"x":19.09,"y":4.12},{"x":19.49,"y":4.27},{"x":19.86,"y":4.38},{"x":19.98,"y":4.81},{"x":20.1,"y":4.74},{"x":20.2,"y":4.62},{"x":20.3,"y":4.68},{"x":20.15,"y":4.45},{"x":20.35,"y":4.55},{"x":20.48,"y":4.9},{"x":21.27,"y":5.1},{"x":22.14,"y":5.3}],
"E3b":[{"x":12.5,"lo":2.35,"hi":2.75},{"x":17,"lo":3.45,"hi":3.65},{"x":22.2,"lo":4.93,"hi":5.19}],
"E4":[{"x":1.83,"y":0.67},{"x":2.06,"y":0.72},{"x":2.29,"y":0.77},{"x":2.52,"y":0.82},{"x":2.75,"y":0.87},{"x":2.98,"y":0.91},{"x":3.21,"y":0.96},{"x":3.44,"y":1.01},{"x":3.67,"y":1.06},{"x":3.9,"y":1.11},{"x":4.13,"y":1.19},{"x":4.36,"y":1.26},{"x":4.59,"y":1.41},{"x":4.82,"y":1.36},{"x":5.28,"y":1.25},{"x":5.41,"y":1.56},{"x":5.73,"y":1.69},{"x":6.06,"y":1.8},{"x":6.42,"y":1.88},{"x":6.97,"y":2},{"x":7.57,"y":2.12},{"x":8.26,"y":2.32},{"x":9.17,"y":2.43},{"x":10.3,"y":2.59},{"x":11.6,"y":2.77},{"x":13.2,"y":2.97},{"x":15,"y":3.24},{"x":17.3,"y":3.45},{"x":21.1,"y":3.68},{"x":25.2,"y":4}],
"E4b":[{"x":1.8,"lo":0.82,"hi":1.12},{"x":11.5,"lo":2.27,"hi":2.45},{"x":25.5,"lo":4.2,"hi":4.55}],
"E5":[{"x":14.9,"y":5},{"x":15.8,"y":5.08},{"x":16.7,"y":5.25},{"x":17.6,"y":5.42},{"x":18.3,"y":5.6},{"x":18.9,"y":5.85},{"x":19.6,"y":5.93},{"x":20.1,"y":6.1},{"x":20.7,"y":6.44},{"x":21.3,"y":6.53},{"x":21.9,"y":6.78},{"x":22.5,"y":7.03},{"x":22.9,"y":7.37},{"x":23.7,"y":7.8},{"x":24.3,"y":8.2},{"x":24.9,"y":8.64},{"x":25.6,"y":8.98},{"x":26.3,"y":9.5},{"x":27,"y":9.83},{"x":27.7,"y":10.34},{"x":28.3,"y":10.76},{"x":29,"y":11.36},{"x":29.4,"y":11.86},{"x":30.1,"y":13.3},{"x":32.3,"y":13.56},{"x":33.5,"y":14.4},{"x":35.4,"y":16.1},{"x":38.8,"y":17.3},{"x":41,"y":20.25},{"x":43,"y":20.1},{"x":46.2,"y":22.8},{"x":54.5,"y":30.5},{"x":58.8,"y":35.2}],
"E5b":[{"x":15,"lo":2.3,"hi":4.8},{"x":35,"lo":14.1,"hi":15.4},{"x":60.5,"lo":30.3,"hi":33.6}],
"E6":[{"x":53.1,"y":15.35},{"x":55.7,"y":16.2},{"x":58.2,"y":16.4},{"x":60.4,"y":17.1},{"x":62.4,"y":17.6},{"x":64.8,"y":18},{"x":67.4,"y":18.5},{"x":69.7,"y":19},{"x":71.7,"y":19.7},{"x":73.6,"y":20.3},{"x":75.2,"y":20.5},{"x":77.2,"y":21},{"x":79.2,"y":21.7},{"x":81.1,"y":22.2},{"x":83,"y":22.7},{"x":84.6,"y":23.3},{"x":86.5,"y":23.9},{"x":88.4,"y":24.6},{"x":90.1,"y":25.3},{"x":92.2,"y":26},{"x":94.3,"y":26.7},{"x":96.3,"y":27.6},{"x":98.1,"y":28.5},{"x":100.5,"y":29.4},{"x":102,"y":30.2},{"x":103.1,"y":30.8},{"x":105.1,"y":31.5},{"x":108.2,"y":32.5},{"x":112.1,"y":34.1},{"x":117.1,"y":35.5},{"x":123,"y":37.3},{"x":130,"y":39.2}],
"E6b":[{"x":53,"lo":13.3,"hi":14.65},{"x":90,"lo":25,"hi":25.8},{"x":130,"lo":37.8,"hi":38.8}]
},
"spacing":3,
"resolve":{"scale":{"color":"independent","shape":"independent","fill":"independent","stroke":"independent"},"legend":{"color":"independent","shape":"independent","fill":"independent","stroke":"independent"}},
"vconcat":[
{"bounds":"flush","spacing":79,
"resolve":{"scale":{"color":"independent","shape":"independent","fill":"independent","stroke":"independent"},"legend":{"color":"independent","shape":"independent","fill":"independent","stroke":"independent"}},
"hconcat":[
{"width":299,"height":241,
"title":{"text":"A","dx":-38,"dy":37},
"layer":[
{"data":{"values":[{}]},"mark":{"type":"rect","color":{"gradient":"linear","x1":0,"y1":0,"x2":0,"y2":1,"stops":[{"offset":0,"color":"#fdf3df"},{"offset":0.42,"color":"#fde4b6"},{"offset":1,"color":"#fffbf4"}]}},"encoding":{"y":{"datum":0.001,"type":"quantitative"},"y2":{"datum":100}}},
{"data":{"name":"A"},
"encoding":{
"x":{"field":"x","type":"quantitative","scale":{"type":"log","domain":[0.2,100],"nice":false},"axis":{"title":"Shear rate (1/s)","labelOverlap":false,"values":[0.2,0.3,0.4,0.5,0.6,0.7,0.8,0.9,1,2,3,4,5,6,7,8,9,10,20,30,40,50,60,70,80,90,100],"labelExpr":"datum.value==1?'10⁰':datum.value==10?'10¹':datum.value==100?'10²':''","tickSize":{"condition":{"test":"indexof([1,10,100],datum.value)>=0","value":5},"value":3},"labelFontSize":12,"titlePadding":8}},
"y":{"field":"y","type":"quantitative","scale":{"type":"log","domain":[0.001,100],"nice":false},"axis":{"title":"Apparent viscosity (Pa.s)","labelOverlap":false,"labelPadding":0,"titlePadding":1,"values":[0.001,0.002,0.003,0.004,0.005,0.006,0.007,0.008,0.009,0.01,0.02,0.03,0.04,0.05,0.06,0.07,0.08,0.09,0.1,0.2,0.3,0.4,0.5,0.6,0.7,0.8,0.9,1,2,3,4,5,6,7,8,9,10,20,30,40,50,60,70,80,90,100],"labelExpr":"datum.value==0.001?'10⁻³':datum.value==0.01?'10⁻²':datum.value==0.1?'10⁻¹':datum.value==1?'10⁰':datum.value==10?'10¹':datum.value==100?'10²':''","tickSize":{"condition":{"test":"indexof([0.001,0.01,0.1,1,10,100],datum.value)>=0","value":5},"value":3},"labelFontSize":12}}
},
"layer":[
{"mark":{"type":"line","strokeWidth":1},"encoding":{"stroke":{"field":"s","type":"nominal","scale":{"domain":["Mix-200","Mix-100","Mix-50","Mix","LYZf","OVAf"],"range":["#2ea646","#a9d18e","#d6364d","#eda7c9","#1aa0dc","#8ccfee"]},"legend":null}}},
{"mark":{"type":"point","filled":true,"size":30,"opacity":1},"encoding":{
"color":{"field":"s","type":"nominal","scale":{"domain":["OVAf","LYZf","Mix","Mix-50","Mix-100","Mix-200"],"range":["#8ccfee","#1aa0dc","#eda7c9","#d6364d","#a9d18e","#2ea646"]},"legend":{"title":null,"orient":"top-right","offset":8,"labelFontSize":9,"symbolSize":28,"rowPadding":0,"padding":2}},
"shape":{"field":"s","type":"nominal","scale":{"domain":["OVAf","LYZf","Mix","Mix-50","Mix-100","Mix-200"],"range":["square","circle","triangle-up","triangle-down","diamond","triangle-left"]},"legend":{"title":null,"orient":"top-right","offset":8,"labelFontSize":9,"symbolSize":28,"rowPadding":0,"padding":2}}}}
]}
]},
{"width":299,"height":241,
"title":{"text":"B","dx":-63,"dy":31},
"layer":[
{"data":{"values":[{}]},"mark":{"type":"rect","color":{"gradient":"linear","x1":0,"y1":0,"x2":0,"y2":1,"stops":[{"offset":0,"color":"#fdf3df"},{"offset":0.38,"color":"#fde4b6"},{"offset":1,"color":"#fffbf4"}]}},"encoding":{"y":{"datum":0,"type":"quantitative","scale":{"domain":[0,1],"nice":false},"axis":null},"y2":{"datum":1}}},
{"data":{"name":"B"},"mark":{"type":"bar","color":"#f0923a"},"encoding":{
"x":{"field":"c","type":"nominal","sort":null,"scale":{"paddingInner":0.5,"paddingOuter":0.25},"axis":{"title":null,"labelAngle":0,"labelFontSize":11.5,"labelPadding":5,"tickSize":3}},
"y":{"field":"n","type":"quantitative","scale":{"domain":[0.5,2.0],"nice":false,"zero":false},"axis":{"orient":"right","title":"n","titleFontStyle":"italic","titleAngle":270,"titleBaseline":"top","titlePadding":2,"labelPadding":1,"values":[0.5,0.6,0.7,0.8,0.9,1.0,1.1,1.2,1.3,1.4,1.5,1.6,1.7,1.8,1.9,2.0],"format":".1f"}},
"y2":{"datum":0.5},
"color":{"datum":"n","scale":{"domain":["n","η∞"],"range":["#f0923a","#111111"]},"legend":{"title":null,"orient":"top-left","offset":10,"symbolType":"square","symbolSize":70,"labelFontStyle":"italic","labelFontSize":11,"rowPadding":2}}}},
{"data":{"name":"B"},
"encoding":{
"x":{"field":"c","type":"nominal","sort":null},
"y":{"field":"e","type":"quantitative","scale":{"domain":[0,0.275],"nice":false,"zero":false},"axis":{"orient":"left","title":"η∞","titleFontStyle":"italic","values":[0,0.05,0.1,0.15,0.2,0.25],"format":".2f"}}},
"layer":[
{"mark":{"type":"line","color":"#111111","strokeWidth":1.2}},
{"mark":{"type":"point","shape":"square","filled":true,"size":40,"color":"#111111","opacity":1}}
]}
],
"resolve":{"scale":{"y":"independent"}}
}
]},
{"bounds":"flush","spacing":79,
"resolve":{"scale":{"color":"independent","shape":"independent","fill":"independent","stroke":"independent"},"legend":{"color":"independent","shape":"independent","fill":"independent","stroke":"independent"}},
"hconcat":[
{"width":299,"height":239,
"title":{"text":"C","dx":-38,"dy":32},
"layer":[
{"layer":[
{"data":{"values":[{}]},"mark":{"type":"rect","color":{"gradient":"linear","x1":0,"y1":0,"x2":0,"y2":1,"stops":[{"offset":0,"color":"#fdf3df"},{"offset":0.45,"color":"#fde4b6"},{"offset":1,"color":"#fffbf4"}]}},"encoding":{"y":{"datum":0.1,"type":"quantitative"},"y2":{"datum":1000}}},
{"data":{"name":"Cp"},
"encoding":{
"x":{"field":"x","type":"quantitative","scale":{"type":"log","domain":[1,100],"nice":false},"axis":{"title":"Angular frequency (rad/s)","labelOverlap":false,"values":[1,2,3,4,5,6,7,8,9,10,20,30,40,50,60,70,80,90,100],"labelExpr":"datum.value==1?'10⁰':datum.value==10?'10¹':datum.value==100?'10²':''","tickSize":{"condition":{"test":"indexof([1,10,100],datum.value)>=0","value":5},"value":3},"labelFontSize":12,"titlePadding":10}},
"y":{"field":"y","type":"quantitative","scale":{"type":"log","domain":[0.1,1000],"nice":false},"axis":{"title":"G' (Pa)","labelOverlap":false,"labelPadding":0,"titlePadding":1,"values":[0.1,0.2,0.3,0.4,0.5,0.6,0.7,0.8,0.9,1,2,3,4,5,6,7,8,9,10,20,30,40,50,60,70,80,90,100,200,300,400,500,600,700,800,900,1000],"labelExpr":"datum.value==0.1?'10⁻¹':datum.value==1?'10⁰':datum.value==10?'10¹':datum.value==100?'10²':datum.value==1000?'10³':''","tickSize":{"condition":{"test":"indexof([0.1,1,10,100,1000],datum.value)>=0","value":5},"value":3},"labelFontSize":12}}},
"layer":[
{"mark":{"type":"line","strokeWidth":1.2},"encoding":{"color":{"field":"s","type":"nominal","scale":{"domain":["G'' Mix-200","G' Mix-200","G'' Mix-100","G' Mix-100","G'' Mix-50","G' Mix-50","G'' Mix","G' Mix","G'' LYZf","G' LYZf","G'' OVAf","G' OVAf"],"range":["#2ea646","#2ea646","#a9d18e","#a9d18e","#d6364d","#d6364d","#eda7c9","#eda7c9","#1aa0dc","#1aa0dc","#8ccfee","#8ccfee"]},"legend":null}}},
{"mark":{"type":"point","filled":false,"size":34,"strokeWidth":1,"opacity":1},"encoding":{
"stroke":{"field":"s","type":"nominal","scale":{"domain":["G' OVAf","G' LYZf","G' Mix","G' Mix-50","G' Mix-100","G' Mix-200","G'' OVAf","G'' LYZf","G'' Mix","G'' Mix-50","G'' Mix-100","G'' Mix-200"],"range":["#8ccfee","#1aa0dc","#eda7c9","#d6364d","#a9d18e","#2ea646","#8ccfee","#1aa0dc","#eda7c9","#d6364d","#a9d18e","#2ea646"]},"legend":{"title":null,"orient":"bottom-right","offset":3,"columns":2,"columnPadding":8,"rowPadding":0,"labelFontSize":9,"symbolSize":26,"labelExpr":"indexof(datum.label, \"G''\") == 0 ? datum.label : \"G'\""}},
"fill":{"field":"s","type":"nominal","scale":{"domain":["G' OVAf","G' LYZf","G' Mix","G' Mix-50","G' Mix-100","G' Mix-200","G'' OVAf","G'' LYZf","G'' Mix","G'' Mix-50","G'' Mix-100","G'' Mix-200"],"range":["#8ccfee","#1aa0dc","#eda7c9","#d6364d","#a9d18e","#2ea646","#ffffff","#ffffff","#ffffff","#ffffff","#ffffff","#ffffff"]},"legend":{"title":null,"orient":"bottom-right","offset":3,"columns":2,"columnPadding":8,"rowPadding":0,"labelFontSize":9,"symbolSize":26,"labelExpr":"indexof(datum.label, \"G''\") == 0 ? datum.label : \"G'\""}},
"shape":{"field":"s","type":"nominal","scale":{"domain":["G' OVAf","G' LYZf","G' Mix","G' Mix-50","G' Mix-100","G' Mix-200","G'' OVAf","G'' LYZf","G'' Mix","G'' Mix-50","G'' Mix-100","G'' Mix-200"],"range":["circle","circle","circle","circle","circle","circle","square","square","square","square","square","square"]},"legend":{"title":null,"orient":"bottom-right","offset":3,"columns":2,"columnPadding":8,"rowPadding":0,"labelFontSize":9,"symbolSize":26,"labelExpr":"indexof(datum.label, \"G''\") == 0 ? datum.label : \"G'\""}}}}
]}
]},
{"data":{"name":"Cpp"},
"encoding":{
"x":{"field":"x","type":"quantitative","scale":{"type":"log","domain":[1,100],"nice":false},"axis":{"title":"Angular frequency (rad/s)","labelOverlap":false,"values":[1,2,3,4,5,6,7,8,9,10,20,30,40,50,60,70,80,90,100],"labelExpr":"datum.value==1?'10⁰':datum.value==10?'10¹':datum.value==100?'10²':''","tickSize":{"condition":{"test":"indexof([1,10,100],datum.value)>=0","value":5},"value":3},"labelFontSize":12,"titlePadding":10}},
"y":{"field":"y","type":"quantitative","scale":{"type":"log","domain":[0.1,100],"nice":false},"axis":{"orient":"right","title":"G'' (Pa)","labelOverlap":false,"titleAngle":270,"titleBaseline":"top","titlePadding":0,"labelPadding":1,"values":[0.1,0.2,0.3,0.4,0.5,0.6,0.7,0.8,0.9,1,2,3,4,5,6,7,8,9,10,20,30,40,50,60,70,80,90,100],"labelExpr":"datum.value==0.1?'10⁻¹':datum.value==1?'10⁰':datum.value==10?'10¹':datum.value==100?'10²':''","tickSize":{"condition":{"test":"indexof([0.1,1,10,100],datum.value)>=0","value":5},"value":3},"labelFontSize":12}}},
"layer":[
{"mark":{"type":"line","strokeWidth":1,"strokeDash":[4,2]},"encoding":{"color":{"field":"s","type":"nominal","scale":{"domain":["G'' Mix-200","G' Mix-200","G'' Mix-100","G' Mix-100","G'' Mix-50","G' Mix-50","G'' Mix","G' Mix","G'' LYZf","G' LYZf","G'' OVAf","G' OVAf"],"range":["#2ea646","#2ea646","#a9d18e","#a9d18e","#d6364d","#d6364d","#eda7c9","#eda7c9","#1aa0dc","#1aa0dc","#8ccfee","#8ccfee"]},"legend":null}}},
{"mark":{"type":"point","filled":false,"size":30,"strokeWidth":1,"opacity":1},"encoding":{
"stroke":{"field":"s","type":"nominal","scale":{"domain":["G' OVAf","G' LYZf","G' Mix","G' Mix-50","G' Mix-100","G' Mix-200","G'' OVAf","G'' LYZf","G'' Mix","G'' Mix-50","G'' Mix-100","G'' Mix-200"],"range":["#8ccfee","#1aa0dc","#eda7c9","#d6364d","#a9d18e","#2ea646","#8ccfee","#1aa0dc","#eda7c9","#d6364d","#a9d18e","#2ea646"]},"legend":{"title":null,"orient":"bottom-right","offset":3,"columns":2,"columnPadding":8,"rowPadding":0,"labelFontSize":9,"symbolSize":26,"labelExpr":"indexof(datum.label, \"G''\") == 0 ? datum.label : \"G'\""}},
"fill":{"field":"s","type":"nominal","scale":{"domain":["G' OVAf","G' LYZf","G' Mix","G' Mix-50","G' Mix-100","G' Mix-200","G'' OVAf","G'' LYZf","G'' Mix","G'' Mix-50","G'' Mix-100","G'' Mix-200"],"range":["#8ccfee","#1aa0dc","#eda7c9","#d6364d","#a9d18e","#2ea646","#ffffff","#ffffff","#ffffff","#ffffff","#ffffff","#ffffff"]},"legend":{"title":null,"orient":"bottom-right","offset":3,"columns":2,"columnPadding":8,"rowPadding":0,"labelFontSize":9,"symbolSize":26,"labelExpr":"indexof(datum.label, \"G''\") == 0 ? datum.label : \"G'\""}},
"shape":{"field":"s","type":"nominal","scale":{"domain":["G' OVAf","G' LYZf","G' Mix","G' Mix-50","G' Mix-100","G' Mix-200","G'' OVAf","G'' LYZf","G'' Mix","G'' Mix-50","G'' Mix-100","G'' Mix-200"],"range":["circle","circle","circle","circle","circle","circle","square","square","square","square","square","square"]},"legend":{"title":null,"orient":"bottom-right","offset":3,"columns":2,"columnPadding":8,"rowPadding":0,"labelFontSize":9,"symbolSize":26,"labelExpr":"indexof(datum.label, \"G''\") == 0 ? datum.label : \"G'\""}}}}
]}
],
"resolve":{"scale":{"y":"independent"}}
},
{"width":298,"height":239,
"title":{"text":"D","dx":-43,"dy":28},
"encoding":{
"x":{"field":"x","type":"quantitative","scale":{"type":"log","domain":[0.5,150],"nice":false},"axis":{"title":"G* (Pa)","labelOverlap":false,"values":[0.5,0.6,0.7,0.8,0.9,1,2,3,4,5,6,7,8,9,10,20,30,40,50,60,70,80,90,100],"labelExpr":"datum.value==1?'1':datum.value==10?'10':datum.value==100?'100':''","tickSize":{"condition":{"test":"indexof([1,10,100],datum.value)>=0","value":5},"value":3},"titlePadding":10}},
"y":{"field":"y","type":"quantitative","scale":{"domain":[0,47],"nice":false,"zero":false},"axis":{"title":"σ (o)","labelOverlap":false,"values":[0,5,10,15,20,25,30,35,40,45],"tickSize":5}}
},
"layer":[
{"data":{"values":[{"x":0.5,"y":0,"x2":150,"y2":47}]},"mark":{"type":"rect","color":{"gradient":"linear","x1":0,"y1":0,"x2":0,"y2":1,"stops":[{"offset":0,"color":"#fdf3df"},{"offset":0.4,"color":"#fde4b6"},{"offset":1,"color":"#fffbf4"}]}},"encoding":{"x2":{"field":"x2"},"y2":{"field":"y2"}}},
{"data":{"name":"De"},"mark":{"type":"line","strokeDash":[5,3],"strokeWidth":1,"clip":true,"opacity":0.85,"interpolate":"cardinal-closed"},"encoding":{
"stroke":{"field":"s","type":"nominal","scale":{"domain":["Mix-200","Mix-100","Mix-50","Mix","LYZf","OVAf"],"range":["#3a9a48","#b0d398","#d6364d","#e59ac0","#2f9ec0","#8fc8e4"]},"legend":null},
"order":{"field":"o","type":"quantitative"}}},
{"data":{"name":"D"},"mark":{"type":"point","filled":true,"size":30,"opacity":1},"encoding":{
"color":{"field":"s","type":"nominal","scale":{"domain":["OVAf","LYZf","Mix","Mix-50","Mix-100","Mix-200"],"range":["#8ccfee","#1aa0dc","#eda7c9","#d6364d","#a9d18e","#2ea646"]},"legend":{"title":null,"orient":"top-right","offset":3,"labelFontSize":10.5,"symbolSize":30,"rowPadding":3}},
"shape":{"field":"s","type":"nominal","scale":{"domain":["OVAf","LYZf","Mix","Mix-50","Mix-100","Mix-200"],"range":["square","circle","triangle-up","triangle-down","diamond","triangle-left"]},"legend":{"title":null,"orient":"top-right","offset":3,"labelFontSize":10.5,"symbolSize":30,"rowPadding":3}}}}
]}
]},
{"bounds":"flush","spacing":36,
"resolve":{"scale":{"color":"independent"},"legend":{"color":"independent"}},
"hconcat":[
{"width":200,"height":140,
"title":{"text":"E","dx":-47,"dy":27},
"encoding":{
"x":{"field":"x","type":"quantitative","scale":{"domain":[0,25],"nice":false,"zero":false},"axis":{"title":"G' (Pa)","labelOverlap":false,"labelPadding":1,"titlePadding":1,"values":[0,5,10,15,20,25]}},
"y":{"field":"y","type":"quantitative","scale":{"domain":[0.2,1.9],"nice":false,"zero":false},"axis":{"title":"G'' (Pa)","labelOverlap":false,"values":[0.2,0.4,0.6,0.8,1.0,1.2,1.4,1.6,1.8],"format":".1f"}}
},
"layer":[
{"data":{"values":[{"x":0,"y":0.2,"x2":25,"y2":1.9}]},"mark":{"type":"rect","color":{"gradient":"linear","x1":0,"y1":0,"x2":0,"y2":1,"stops":[{"offset":0,"color":"#fef8ec"},{"offset":0.5,"color":"#fde5b8"},{"offset":1,"color":"#fffcf7"}]}},"encoding":{"x2":{"field":"x2"},"y2":{"field":"y2"}}},
{"data":{"name":"E1b"},"mark":{"type":"area","color":"#9fd3e3","opacity":0.55,"clip":true},"encoding":{"y":{"field":"lo","type":"quantitative"},"y2":{"field":"hi"}}},
{"data":{"name":"E1"},"mark":{"type":"point","shape":"square","filled":true,"size":30,"opacity":1},"encoding":{
"color":{"datum":"OVAf","scale":{"range":["#8ed0ef"]},"legend":{"title":null,"orient":"top-left","offset":4,"symbolType":"square","labelFontSize":10,"symbolSize":30,"padding":2}}}}
]},
{"width":198,"height":140,
"encoding":{
"x":{"field":"x","type":"quantitative","scale":{"domain":[0.4,2.0],"nice":false,"zero":false},"axis":{"title":"G' (Pa)","labelOverlap":false,"labelPadding":1,"titlePadding":1,"values":[0.4,0.6,0.8,1.0,1.2,1.4,1.6,1.8,2.0],"format":".1f"}},
"y":{"field":"y","type":"quantitative","scale":{"domain":[0.12,1.9],"nice":false,"zero":false},"axis":{"title":"G'' (Pa)","labelOverlap":false,"values":[0.2,0.4,0.6,0.8,1.0,1.2,1.4,1.6,1.8],"format":".1f"}}
},
"layer":[
{"data":{"values":[{"x":0.4,"y":0.12,"x2":2.0,"y2":1.9}]},"mark":{"type":"rect","color":{"gradient":"linear","x1":0,"y1":0,"x2":0,"y2":1,"stops":[{"offset":0,"color":"#fef8ec"},{"offset":0.5,"color":"#fde5b8"},{"offset":1,"color":"#fffcf7"}]}},"encoding":{"x2":{"field":"x2"},"y2":{"field":"y2"}}},
{"data":{"name":"E2b"},"mark":{"type":"area","color":"#4fb0cc","opacity":0.5,"clip":true},"encoding":{"y":{"field":"lo","type":"quantitative"},"y2":{"field":"hi"}}},
{"data":{"name":"E2"},"mark":{"type":"point","shape":"square","filled":true,"size":30,"opacity":1},"encoding":{
"color":{"datum":"LYZf","scale":{"range":["#1fa2dc"]},"legend":{"title":null,"orient":"top-left","offset":4,"symbolType":"square","labelFontSize":10,"symbolSize":30,"padding":2}}}}
]},
{"width":200,"height":140,
"encoding":{
"x":{"field":"x","type":"quantitative","scale":{"domain":[11.1,23],"nice":false,"zero":false},"axis":{"title":"G' (Pa)","labelOverlap":false,"labelPadding":1,"titlePadding":1,"values":[12,14,16,18,20,22]}},
"y":{"field":"y","type":"quantitative","scale":{"domain":[2.5,5.8],"nice":false,"zero":false},"axis":{"title":"G'' (Pa)","labelOverlap":false,"values":[2.5,3,3.5,4,4.5,5,5.5],"format":".1f"}}
},
"layer":[
{"data":{"values":[{"x":11.1,"y":2.5,"x2":23,"y2":5.8}]},"mark":{"type":"rect","color":{"gradient":"linear","x1":0,"y1":0,"x2":0,"y2":1,"stops":[{"offset":0,"color":"#fef8ec"},{"offset":0.5,"color":"#fde5b8"},{"offset":1,"color":"#fffcf7"}]}},"encoding":{"x2":{"field":"x2"},"y2":{"field":"y2"}}},
{"data":{"name":"E3b"},"mark":{"type":"area","color":"#f0a6c6","opacity":0.55,"clip":true},"encoding":{"y":{"field":"lo","type":"quantitative"},"y2":{"field":"hi"}}},
{"data":{"name":"E3"},"mark":{"type":"point","shape":"square","filled":true,"size":30,"opacity":1},"encoding":{
"color":{"datum":"Mix","scale":{"range":["#eaa0c6"]},"legend":{"title":null,"orient":"top-left","offset":4,"symbolType":"square","labelFontSize":10,"symbolSize":30,"padding":2}}}}
]}
]},
{"bounds":"flush","spacing":36,
"resolve":{"scale":{"color":"independent"},"legend":{"color":"independent"}},
"hconcat":[
{"width":202,"height":143,
"title":{"text":" ","dx":-45,"dy":17},
"encoding":{
"x":{"field":"x","type":"quantitative","scale":{"domain":[0,27.5],"nice":false,"zero":false},"axis":{"title":"G' (Pa)","labelOverlap":false,"labelPadding":1,"titlePadding":1,"values":[0,5,10,15,20,25]}},
"y":{"field":"y","type":"quantitative","scale":{"domain":[0.25,4.55],"nice":false,"zero":false},"axis":{"title":"G'' (Pa)","labelOverlap":false,"values":[0.5,1,1.5,2,2.5,3,3.5,4,4.5],"format":".1f"}}
},
"layer":[
{"data":{"values":[{"x":0,"y":0.25,"x2":27.5,"y2":4.55}]},"mark":{"type":"rect","color":{"gradient":"linear","x1":0,"y1":0,"x2":0,"y2":1,"stops":[{"offset":0,"color":"#fef8ec"},{"offset":0.5,"color":"#fde5b8"},{"offset":1,"color":"#fffcf7"}]}},"encoding":{"x2":{"field":"x2"},"y2":{"field":"y2"}}},
{"data":{"name":"E4b"},"mark":{"type":"area","color":"#ec8f9f","opacity":0.5,"clip":true},"encoding":{"y":{"field":"lo","type":"quantitative"},"y2":{"field":"hi"}}},
{"data":{"name":"E4"},"mark":{"type":"point","shape":"square","filled":true,"size":30,"opacity":1},"encoding":{
"color":{"datum":"Mix-50","scale":{"range":["#d93a55"]},"legend":{"title":null,"orient":"top-left","offset":4,"symbolType":"square","labelFontSize":10,"symbolSize":30,"padding":2}}}}
]},
{"width":198,"height":143,
"encoding":{
"x":{"field":"x","type":"quantitative","scale":{"domain":[10,63],"nice":false,"zero":false},"axis":{"title":"G' (Pa)","labelOverlap":false,"labelPadding":1,"titlePadding":1,"values":[10,20,30,40,50,60]}},
"y":{"field":"y","type":"quantitative","scale":{"domain":[0,36.6],"nice":false,"zero":false},"axis":{"title":"G'' (Pa)","labelOverlap":false,"values":[0,6,12,18,24,30,36]}}
},
"layer":[
{"data":{"values":[{"x":10,"y":0,"x2":63,"y2":36.6}]},"mark":{"type":"rect","color":{"gradient":"linear","x1":0,"y1":0,"x2":0,"y2":1,"stops":[{"offset":0,"color":"#fef8ec"},{"offset":0.5,"color":"#fde5b8"},{"offset":1,"color":"#fffcf7"}]}},"encoding":{"x2":{"field":"x2"},"y2":{"field":"y2"}}},
{"data":{"name":"E5b"},"mark":{"type":"area","color":"#c9e2b2","opacity":0.6,"clip":true},"encoding":{"y":{"field":"lo","type":"quantitative"},"y2":{"field":"hi"}}},
{"data":{"name":"E5"},"mark":{"type":"point","shape":"square","filled":true,"size":30,"opacity":1},"encoding":{
"color":{"datum":"Mix-100","scale":{"range":["#b2d69a"]},"legend":{"title":null,"orient":"top-left","offset":4,"symbolType":"square","labelFontSize":10,"symbolSize":30,"padding":2}}}}
]},
{"width":201,"height":143,
"encoding":{
"x":{"field":"x","type":"quantitative","scale":{"domain":[45.6,139.3],"nice":false,"zero":false},"axis":{"title":"G' (Pa)","labelOverlap":false,"labelPadding":1,"titlePadding":1,"values":[50,60,70,80,90,100,110,120,130]}},
"y":{"field":"y","type":"quantitative","scale":{"domain":[12.5,42.5],"nice":false,"zero":false},"axis":{"title":"G'' (Pa)","labelOverlap":false,"values":[15,20,25,30,35,40]}}
},
"layer":[
{"data":{"values":[{"x":45.6,"y":12.5,"x2":139.3,"y2":42.5}]},"mark":{"type":"rect","color":{"gradient":"linear","x1":0,"y1":0,"x2":0,"y2":1,"stops":[{"offset":0,"color":"#fef8ec"},{"offset":0.5,"color":"#fde5b8"},{"offset":1,"color":"#fffcf7"}]}},"encoding":{"x2":{"field":"x2"},"y2":{"field":"y2"}}},
{"data":{"name":"E6b"},"mark":{"type":"area","color":"#8fd08f","opacity":0.5,"clip":true},"encoding":{"y":{"field":"lo","type":"quantitative"},"y2":{"field":"hi"}}},
{"data":{"name":"E6"},"mark":{"type":"point","shape":"square","filled":true,"size":30,"opacity":1},"encoding":{
"color":{"datum":"Mix-200","scale":{"range":["#35b048"]},"legend":{"title":null,"orient":"top-left","offset":4,"symbolType":"square","labelFontSize":10,"symbolSize":30,"padding":2}}}}
]}
]}
]
}
